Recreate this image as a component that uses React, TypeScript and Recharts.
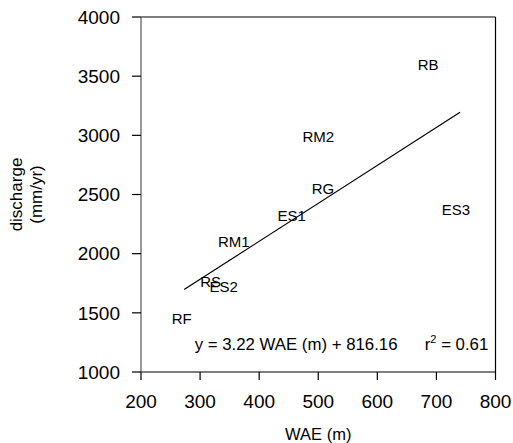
import React from 'react';
import {
  ScatterChart,
  Scatter,
  XAxis,
  YAxis,
  ReferenceLine,
  ReferenceDot,
  Label,
} from 'recharts';

const siteNames = ['RB', 'RM2', 'RG', 'ES3', 'ES1', 'RM1', 'RS', 'ES2', 'RF'];
const waeValues = [686, 500, 508, 733, 455, 357, 318, 340, 269];
const dischargeValues = [3597, 2986, 2551, 2372, 2323, 2099, 1761, 1722, 1448];

const fitWae = [273, 740];
const fitDischarge = [1697, 3195];

const xTicks = [200, 300, 400, 500, 600, 700, 800];
const yTicks = [1000, 1500, 2000, 2500, 3000, 3500, 4000];

const equationText = 'y = 3.22 WAE (m) + 816.16';
const rSquaredText = ' = 0.61';
const eqPos = { x: 291, y: 1237 };

const FONT = '"Liberation Sans", Arial, Helvetica, sans-serif';

const sites = siteNames.map((name, i) => ({ name, x: waeValues[i], y: dischargeValues[i] }));
const fitLine = fitWae.map((x, i) => ({ x, y: fitDischarge[i] }));

const SiteLabel = (props: any) => {
  const { cx, cy, payload } = props;
  return (
    <text x={cx} y={cy} dy="0.36em" textAnchor="middle" fontSize={15} fontFamily={FONT} fill="#000">
      {payload.name}
    </text>
  );
};

const EquationShape = (props: any) => {
  const { cx, cy } = props;
  return (
    <g>
      <text x={cx} y={cy} dy="0.36em" textAnchor="start" fontSize={16.8} fontFamily={FONT} fill="#000">
        {equationText}
      </text>
      <text x={cx + 230} y={cy} dy="0.36em" textAnchor="start" fontSize={16.8} fontFamily={FONT} fill="#000">
        r
        <tspan dy={-7} fontSize={11}>2</tspan>
        <tspan dy={7}>{rSquaredText}</tspan>
      </text>
    </g>
  );
};

const XTitle = (props: any) => {
  const { viewBox } = props;
  const cx = viewBox.x + viewBox.width / 2;
  const cy = viewBox.y + 62;
  return (
    <text x={cx} y={cy} dy="0.36em" textAnchor="middle" fontSize={16.5} fontFamily={FONT} fill="#000">
      WAE (m)
    </text>
  );
};

const YTitle = (props: any) => {
  const { viewBox } = props;
  const cy = viewBox.y + viewBox.height / 2;
  const x1 = 16;
  const x2 = 36;
  return (
    <g>
      <text
        x={x1}
        y={cy}
        transform={`rotate(-90, ${x1}, ${cy})`}
        textAnchor="middle"
        dominantBaseline="central"
        fontSize={17}
        fontFamily={FONT}
        fill="#000"
      >
        discharge
      </text>
      <text
        x={x2}
        y={cy}
        transform={`rotate(-90, ${x2}, ${cy})`}
        textAnchor="middle"
        dominantBaseline="central"
        fontSize={17}
        fontFamily={FONT}
        fill="#000"
      >
        (mm/yr)
      </text>
    </g>
  );
};

export default function App() {
  return (
    <div style={{ width: 513, height: 443, background: '#fff' }}>
      <style>{'html,body{margin:0;padding:0;overflow:hidden;background:#fff;} .recharts-surface{overflow:visible;}'}</style>
      <ScatterChart
        width={513}
        height={443}
        margin={{ top: 17, right: 17.5, left: 0, bottom: 31 }}
      >
        <XAxis
          type="number"
          dataKey="x"
          domain={[200, 800]}
          ticks={xTicks}
          allowDataOverflow
          height={40}
          tickSize={8}
          tickMargin={15}
          axisLine={{ stroke: '#000', strokeWidth: 1.2 }}
          tickLine={{ stroke: '#000', strokeWidth: 1.2 }}
          tick={{ fill: '#000', fontSize: 19, fontFamily: FONT }}
        >
          <Label content={<XTitle />} />
        </XAxis>
        <YAxis
          type="number"
          dataKey="y"
          domain={[1000, 4000]}
          ticks={yTicks}
          allowDataOverflow
          width={141}
          tickSize={9}
          tickMargin={12}
          axisLine={{ stroke: '#555', strokeWidth: 1.2 }}
          tickLine={{ stroke: '#000', strokeWidth: 1.2 }}
          tick={{ fill: '#000', fontSize: 19, fontFamily: FONT }}
        >
          <Label content={<YTitle />} />
        </YAxis>
        <ReferenceLine y={4000} stroke="#000" strokeWidth={1.2} />
        <ReferenceLine x={800} stroke="#000" strokeWidth={1.2} />
        <Scatter
          data={fitLine}
          line={{ stroke: '#000', strokeWidth: 1.2 }}
          shape={() => <g />}
          isAnimationActive={false}
        />
        <Scatter data={sites} shape={<SiteLabel />} isAnimationActive={false} />
        <ReferenceDot x={eqPos.x} y={eqPos.y} r={0} shape={<EquationShape />} />
      </ScatterChart>
    </div>
  );
}
